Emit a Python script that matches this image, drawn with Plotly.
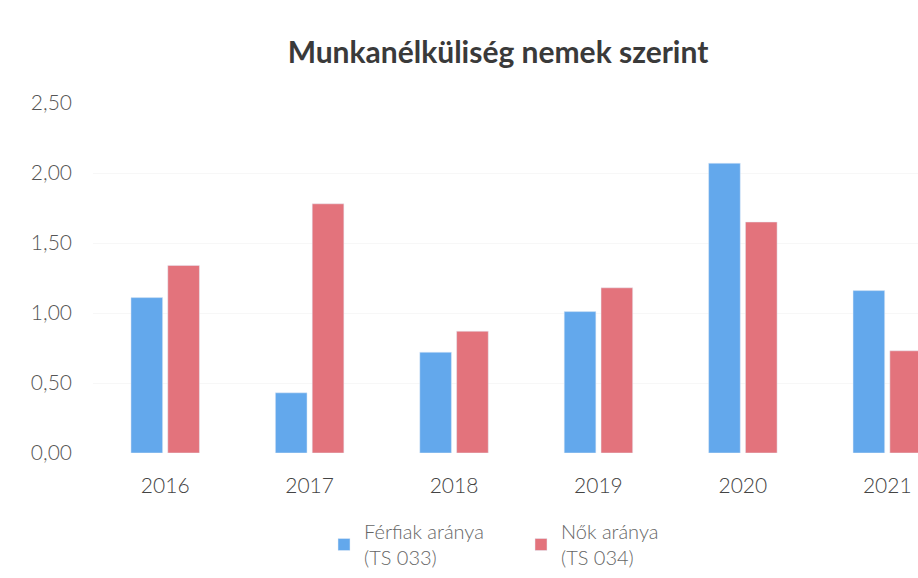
import plotly.graph_objects as go

years = ["2016", "2017", "2018", "2019", "2020", "2021"]
ferfiak = [1.11, 0.43, 0.72, 1.01, 2.07, 1.16]
nok = [1.34, 1.78, 0.87, 1.18, 1.65, 0.73]
series_names = ["Férfiak aránya<br>(TS 033)", "Nők aránya<br>(TS 034)"]
y_ticks = [0, 0.5, 1.0, 1.5, 2.0, 2.5]

FONT = "Lato, 'Open Sans', sans-serif"
W, H = 918, 578
L, T, B = 92.5, 103, 125
CAT_PX = 144.5
x_max = -0.5 + (W - L) / CAT_PX

fig = go.Figure()
fig.add_trace(go.Bar(x=years, y=ferfiak, name=series_names[0], marker_color="#63a8ec"))
fig.add_trace(go.Bar(x=years, y=nok, name=series_names[1], marker_color="#e3737c"))

fig.update_layout(
    width=W, height=H,
    paper_bgcolor="white", plot_bgcolor="white",
    separators=",.",
    barmode="group", bargap=0.49, bargroupgap=0.14,
    margin=dict(l=L, r=0, t=T, b=B),
    title=dict(text="<b>Munkanélküliség nemek szerint</b>", x=498 / W, xanchor="center",
               y=1 - 52 / H, yanchor="middle", yref="container",
               font=dict(family=FONT, size=30, color="#3a3a3a")),
    font=dict(family=FONT, color="#555555"),
    xaxis=dict(type="category", range=[-0.5, x_max], showgrid=False, showline=False,
               ticks="", ticklabelstandoff=18,
               tickfont=dict(size=21, color="#444444", weight=300)),
    yaxis=dict(range=[0, 2.5], tickvals=y_ticks, tickformat=".2f", showgrid=True,
               gridcolor="#f7f7f7", zeroline=False, showline=False, ticks="",
               ticklabelstandoff=20,
               tickfont=dict(size=21, color="#555555", weight=300)),
    legend=dict(orientation="h", x=0.28, xanchor="left", y=-(B - 1) / (H - T - B),
                yanchor="bottom",
                font=dict(size=20, color="#666666", weight=300), itemwidth=30,
                entrywidth=152, entrywidthmode="pixels"),
    showlegend=True,
)

fig.write_html("out.html", config={"displayModeBar": False},
               post_script="document.body.style.margin='0';")
